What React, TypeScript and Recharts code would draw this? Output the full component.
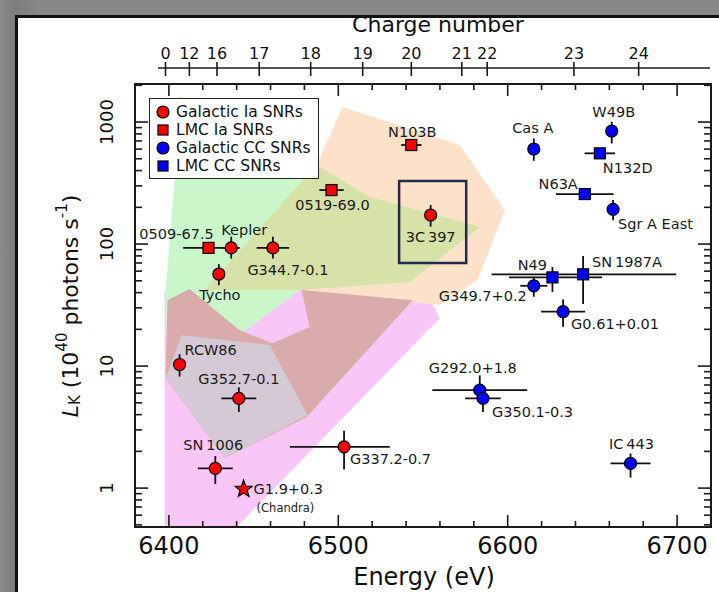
import React from 'react';
import { ScatterChart, Scatter, XAxis, YAxis, ErrorBar, ReferenceArea } from 'recharts';

const FONT = '"DejaVu Sans", "Liberation Sans", Arial, sans-serif';

// ---- layout constants ----
const W = 719;
const H = 592;
const PLOT_LEFT = 135;
const PLOT_RIGHT = 711;
const PLOT_TOP = 84;
const CHARGE_LINE_Y = 68;
const CHARGE_LINE_X0 = 158;
const CHARGE_LINE_X1 = 710;

// ---- axes ----
const energyDomain = [6380, 6720];
const lumDomain = [0.48, 2050];
const energyTicks = [6380, 6400, 6420, 6440, 6460, 6480, 6500, 6520, 6540, 6560, 6580, 6600, 6620, 6640, 6660, 6680, 6700, 6720];
const energyMajor = [6400, 6500, 6600, 6700];
const lumTicks = [0.5, 0.6, 0.7, 0.8, 0.9, 1, 2, 3, 4, 5, 6, 7, 8, 9, 10, 20, 30, 40, 50, 60, 70, 80, 90, 100, 200, 300, 400, 500, 600, 700, 800, 900, 1000, 2000];
const lumMajor = [1, 10, 100, 1000];
const chargeTickEnergies = [6398.0, 6412.1, 6428.4, 6453.3, 6483.7, 6514.4, 6543.1, 6572.9, 6587.9, 6639.1, 6677.3];
const chargeLabels = ['0', '12', '16', '17', '18', '19', '20', '21', '22', '23', '24'];

// ---- data: energy (eV), L_K, x errors (minus, plus), L range ----
const galacticIa = [
  { name: 'Kepler', e: 6436.8, l: 93, exm: 5, exp: 5, lLo: 76, lHi: 115 },
  { name: 'Tycho', e: 6429.5, l: 56.8, exm: 0, exp: 0, lLo: 46, lHi: 68.5 },
  { name: 'G344.7-0.1', e: 6461.4, l: 93, exm: 9.6, exp: 9.6, lLo: 76, lHi: 115 },
  { name: '3C\u2009397', e: 6554.5, l: 173, exm: 0, exp: 0, lLo: 139, lHi: 209 },
  { name: 'RCW86', e: 6406.3, l: 10.3, exm: 2, exp: 2, lLo: 8.2, lHi: 12.5 },
  { name: 'G352.7-0.1', e: 6441.3, l: 5.44, exm: 10.3, exp: 10.3, lLo: 4.2, lHi: 6.7 },
  { name: 'SN\u20091006', e: 6427.4, l: 1.45, exm: 10.3, exp: 10.3, lLo: 1.08, lHi: 1.83 },
  { name: 'G337.2-0.7', e: 6503.4, l: 2.18, exm: 32, exp: 27, lLo: 1.42, lHi: 2.95 },
];
const lmcIa = [
  { name: '0519-69.0', e: 6496, l: 277, exm: 7.2, exp: 7.2, lLo: 262, lHi: 292 },
  { name: '0509-67.5', e: 6423.4, l: 93, exm: 15, exp: 15, lLo: 88, lHi: 98 },
  { name: 'N103B', e: 6543.1, l: 648, exm: 6, exp: 6, lLo: 615, lHi: 683 },
];
const galacticCC = [
  { name: 'Cas A', e: 6615.4, l: 601, exm: 0, exp: 0, lLo: 481, lHi: 734 },
  { name: 'W49B', e: 6661.4, l: 844, exm: 0, exp: 0, lLo: 667, lHi: 1006 },
  { name: 'Sgr A East', e: 6662.2, l: 192.5, exm: 0, exp: 0, lLo: 157, lHi: 230 },
  { name: 'G349.7+0.2', e: 6615.4, l: 45.5, exm: 8, exp: 8, lLo: 37, lHi: 54 },
  { name: 'G0.61+0.01', e: 6632.7, l: 27.9, exm: 13, exp: 13, lLo: 21, lHi: 35.2 },
  { name: 'G292.0+1.8', e: 6583.5, l: 6.36, exm: 28, exp: 28, lLo: 5.3, lHi: 8.4 },
  { name: 'G350.1-0.3', e: 6585.4, l: 5.44, exm: 10.5, exp: 10.5, lLo: 4.2, lHi: 6.4 },
  { name: 'IC\u2009443', e: 6672.5, l: 1.594, exm: 11.8, exp: 11.8, lLo: 1.22, lHi: 1.92 },
];
const lmcCC = [
  { name: 'N132D', e: 6654.4, l: 554, exm: 9, exp: 9, lLo: 530, lHi: 580 },
  { name: 'N63A', e: 6645.5, l: 257, exm: 17, exp: 17, lLo: 245, lHi: 270 },
  { name: 'N49', e: 6626.4, l: 53.3, exm: 25.6, exp: 29.3, lLo: 40.6, lHi: 65 },
  { name: 'SN\u20091987A', e: 6644.5, l: 56.5, exm: 54, exp: 55, lLo: 32.2, lHi: 80 },
];
const chandraStar = [{ name: 'G1.9+0.3', e: 6444.1, l: 0.98 }];

// highlight box around 3C 397 (energy, L)
const boxCorners = [[6535.9, 328], [6575.5, 328], [6575.5, 69.9], [6535.9, 69.9]];

// model regions (energy, L)
const pinkRegion = [[6397.5, 0.479], [6440, 0.479], [6559.9, 24.7], [6551, 42], [6397.5, 42]];
const peachRegion = [[6502.6, 1327], [6571.7, 648], [6598.3, 190], [6582.3, 50.7], [6559.9, 31.6], [6477.2, 42], [6416.4, 43.6], [6487.2, 444]];
const mintRegion = [[6406.3, 1633], [6487.2, 444], [6518.5, 243], [6583.5, 138], [6542.1, 48.8], [6477.2, 42], [6441.8, 17.9], [6399.2, 7.97], [6398.1, 42], [6403.4, 335]];
const oliveRegion = [[6487.2, 444], [6518.5, 243], [6583.5, 138], [6542.1, 48.8], [6477.2, 42], [6421.1, 42]];
const roseRegion = [[6399.2, 34.7], [6412.2, 42.8], [6441.8, 19.7], [6461.2, 15.4], [6483.1, 20.9], [6478.4, 42], [6543.9, 34.7], [6481.3, 3.82], [6432.9, 1.76], [6398.1, 7.97]];
const grayRegion = [[6398.1, 7.97], [6407.5, 17.9], [6459.5, 14.9], [6481.9, 3.97], [6432.9, 1.76]];

// label placement relative to marker (px)
const labelOffsets: Record<string, [number, number, string]> = {
  'Kepler': [13, -18, 'middle'],
  '0509-67.5': [-32, -14, 'middle'],
  'Tycho': [1, 21, 'middle'],
  'G344.7-0.1': [15, 22, 'middle'],
  '0519-69.0': [1, 15, 'middle'],
  'N103B': [1, -13, 'middle'],
  '3C\u2009397': [0, 22, 'middle'],
  'Cas A': [-1, -21, 'middle'],
  'W49B': [2, -19, 'middle'],
  'N132D': [3, 15, 'start'],
  'N63A': [-7, -10, 'end'],
  'Sgr A East': [5, 15, 'start'],
  'N49': [-20, -12, 'middle'],
  'SN\u20091987A': [9, -12, 'start'],
  'G349.7+0.2': [-7, 10, 'end'],
  'G0.61+0.01': [8, 12, 'start'],
  'G292.0+1.8': [-7, -22, 'middle'],
  'G350.1-0.3': [9, 14, 'start'],
  'IC\u2009443': [1, -19, 'middle'],
  'RCW86': [5, -15, 'start'],
  'G352.7-0.1': [0, -19, 'middle'],
  'SN\u20091006': [-2, -23, 'middle'],
  'G337.2-0.7': [6, 12, 'start'],
  'G1.9+0.3': [10, 0, 'start'],
};

const RED = '#ff0000';
const BLUE = '#0000ff';
const INK = '#1a1a1a';

const toXY = (arr: number[][]) => arr.map(([e, l]) => ({ e, l }));

const polyFill = (color: string) => (props: any) => {
  const pts = props.points || [];
  if (!pts.length) return <g />;
  const d = pts.map((p: any, i: number) => `${i ? 'L' : 'M'}${p.x},${p.y}`).join(' ') + ' Z';
  return <path d={d} fill={color} stroke="none" />;
};
const polyStroke = (color: string, w: number) => (props: any) => {
  const pts = props.points || [];
  if (!pts.length) return <g />;
  const d = pts.map((p: any, i: number) => `${i ? 'L' : 'M'}${p.x},${p.y}`).join(' ') + ' Z';
  return <path d={d} fill="none" stroke={color} strokeWidth={w} />;
};
const noShape = () => <g />;

const starPath = (cx: number, cy: number, R: number, r: number) => {
  let d = '';
  for (let i = 0; i < 10; i++) {
    const ang = -Math.PI / 2 + (i * Math.PI) / 5;
    const rad = i % 2 === 0 ? R : r;
    d += `${i ? 'L' : 'M'}${cx + rad * Math.cos(ang)},${cy + rad * Math.sin(ang)}`;
  }
  return d + 'Z';
};

const PointLabel = ({ cx, cy, name }: any) => {
  const off = labelOffsets[name];
  if (!off) return null;
  return (
    <text x={cx + off[0]} y={cy + off[1]} textAnchor={off[2] as any} dominantBaseline="central" fontSize={14.5} fill="#1a1a1a" fontFamily={FONT}>
      {name}
    </text>
  );
};

const makeShape = (kind: string, color: string) => (props: any) => {
  const { cx, cy, payload } = props;
  if (cx == null || cy == null) return <g />;
  let marker;
  if (kind === 'circle') marker = <circle cx={cx} cy={cy} r={6} fill={color} stroke="#000" strokeWidth={1.2} />;
  else if (kind === 'square') marker = <rect x={cx - 5.5} y={cy - 5.5} width={11} height={11} fill={color} stroke="#000" strokeWidth={1.2} />;
  else marker = <path d={starPath(cx, cy, 9, 3.8)} fill={color} stroke="#000" strokeWidth={1.2} />;
  return (
    <g>
      {marker}
      <PointLabel cx={cx} cy={cy} name={payload.name} />
      {kind === 'star' && (
        <text x={cx + 13} y={cy + 19} dominantBaseline="central" fontSize={11.5} fill="#1a1a1a" fontFamily={FONT}>(Chandra)</text>
      )}
    </g>
  );
};

const BottomTick = (props: any) => {
  const { x, y, payload } = props;
  const v = payload.value;
  const major = energyMajor.includes(v);
  const len = major ? 12 : 6;
  return (
    <g>
      <line x1={x} y1={y} x2={x} y2={y - len} stroke={INK} strokeWidth={1.6} />
      <line x1={x} y1={PLOT_TOP} x2={x} y2={PLOT_TOP + len} stroke={INK} strokeWidth={1.6} />
      {major && (
        <text x={x} y={y + 27} textAnchor="middle" fontSize={24} fill="#111" fontFamily={FONT}>{v}</text>
      )}
    </g>
  );
};

const LeftTick = (props: any) => {
  const { x, y, payload } = props;
  const v = payload.value;
  const major = lumMajor.includes(v);
  const len = major ? 13 : 7;
  return (
    <g>
      <line x1={x} y1={y} x2={x + len} y2={y} stroke={INK} strokeWidth={1.6} />
      <line x1={PLOT_RIGHT} y1={y} x2={PLOT_RIGHT - len} y2={y} stroke={INK} strokeWidth={1.6} />
      {major && (
        <text transform={`translate(106 ${y}) rotate(-90)`} textAnchor="middle" dominantBaseline="central" fontSize={18} fill="#111" fontFamily={FONT}>{v}</text>
      )}
    </g>
  );
};

const ChargeTick = (props: any) => {
  const { x, payload, index } = props;
  let i = chargeTickEnergies.indexOf(payload.value);
  if (i < 0) i = index;
  return (
    <g>
      {i === 0 && <line x1={CHARGE_LINE_X0} y1={CHARGE_LINE_Y} x2={CHARGE_LINE_X1} y2={CHARGE_LINE_Y} stroke={INK} strokeWidth={1.6} />}
      <line x1={x} y1={CHARGE_LINE_Y - 6} x2={x} y2={CHARGE_LINE_Y + 8} stroke={INK} strokeWidth={1.6} />
      <text x={x} y={CHARGE_LINE_Y - 9} textAnchor="middle" fontSize={16} fill="#111" fontFamily={FONT}>{chargeLabels[i]}</text>
    </g>
  );
};

const errX = (d: any) => [d.exm, d.exp];
const errY = (d: any) => [d.l - d.lLo, d.lHi - d.l];

const legendItems = [
  { label: 'Galactic Ia SNRs', kind: 'circle', color: RED },
  { label: 'LMC Ia SNRs', kind: 'square', color: RED },
  { label: 'Galactic CC SNRs', kind: 'circle', color: BLUE },
  { label: 'LMC CC SNRs', kind: 'square', color: BLUE },
];

const regionLayers = [
  { data: pinkRegion, color: '#f8c6f7' },
  { data: peachRegion, color: '#fde2c9' },
  { data: mintRegion, color: '#c9f7c9' },
  { data: oliveRegion, color: '#d6e2a7' },
  { data: roseRegion, color: '#d9abaa' },
  { data: grayRegion, color: '#d4c9d5' },
];

export default function App() {
  const series = [
    { data: galacticIa, kind: 'circle', color: RED },
    { data: lmcIa, kind: 'square', color: RED },
    { data: galacticCC, kind: 'circle', color: BLUE },
    { data: lmcCC, kind: 'square', color: BLUE },
  ];
  return (
    <div style={{ position: 'absolute', left: 0, top: 0, width: W, height: H, overflow: 'hidden', background: 'linear-gradient(to right, #8f8d8b 0px, #7e7c7a 14px, #8a8886 40px)', fontFamily: FONT }}>
      <div style={{ position: 'absolute', left: 15, top: 15, width: W, height: H, background: '#fff', borderLeft: '3px solid #111', borderTop: '3px solid #111' }} />
      <div style={{ position: 'absolute', left: 0, top: 0 }}>
        <ScatterChart width={W} height={H} margin={{ top: 0, right: W - PLOT_RIGHT, bottom: 0, left: 0 }}>
          <XAxis dataKey="e" type="number" domain={energyDomain} allowDataOverflow ticks={energyTicks} interval={0} tick={BottomTick} tickLine={false} axisLine={false} tickSize={0} tickMargin={0} height={65} />
          <XAxis xAxisId="charge" orientation="top" dataKey="e" type="number" domain={energyDomain} allowDataOverflow ticks={chargeTickEnergies} interval={0} tick={ChargeTick} tickLine={false} axisLine={false} tickSize={0} tickMargin={0} height={PLOT_TOP} />
          <YAxis dataKey="l" type="number" scale="log" domain={lumDomain} allowDataOverflow ticks={lumTicks} interval={0} tick={LeftTick} tickLine={false} axisLine={false} tickSize={0} tickMargin={0} width={PLOT_LEFT} />

          {regionLayers.map((r, i) => (
            <Scatter key={'r' + i} data={toXY(r.data)} line={polyFill(r.color)} shape={noShape} isAnimationActive={false} zIndex={10 + i} />
          ))}
          <Scatter xAxisId="charge" data={toXY(boxCorners)} line={polyStroke('#1f2b4a', 2.5)} shape={noShape} isAnimationActive={false} zIndex={30} />

          {series.map((s, i) => (
            <Scatter key={i} data={s.data} shape={makeShape(s.kind, s.color)} isAnimationActive={false} zIndex={700}>
              <ErrorBar direction="x" dataKey={errX} width={0} stroke="#111" strokeWidth={1.8} zIndex={650} />
              <ErrorBar direction="y" dataKey={errY} width={0} stroke="#111" strokeWidth={1.8} zIndex={650} />
            </Scatter>
          ))}
          <Scatter data={chandraStar} shape={makeShape('star', RED)} isAnimationActive={false} zIndex={700} />

          <ReferenceArea x1={energyDomain[0]} x2={energyDomain[1]} y1={lumDomain[0]} y2={lumDomain[1]} fill="none" stroke={INK} strokeWidth={2} zIndex={2000} />
        </ScatterChart>
      </div>

      <svg width={W} height={H} style={{ position: 'absolute', left: 0, top: 0, pointerEvents: 'none' }}>
        <text x={438} y={32} textAnchor="middle" fontSize={22} fill="#111" fontFamily={FONT}>Charge number</text>
        <text x={424} y={585} textAnchor="middle" fontSize={24} fill="#111" fontFamily={FONT}>Energy (eV)</text>
        <text transform="translate(70 306) rotate(-90)" textAnchor="middle" dominantBaseline="central" fontSize={22} fill="#111" fontFamily={FONT}>
          <tspan fontStyle="italic">L</tspan>
          <tspan fontSize={15} dy={5}>K</tspan>
          <tspan dy={-5}> (10</tspan>
          <tspan fontSize={15} dy={-8}>40</tspan>
          <tspan dy={8}> photons s</tspan>
          <tspan fontSize={15} dy={-8}>-1</tspan>
          <tspan dy={8}>)</tspan>
        </text>
      </svg>

      <div style={{ position: 'absolute', left: 149, top: 98, width: 170, height: 81, boxSizing: 'border-box', border: '1.5px solid #222', background: '#fff' }}>
        <svg width={168} height={78} style={{ position: 'absolute', left: 0, top: 0 }}>
          {legendItems.map((it, i) => {
            const cy = 13 + i * 18;
            return (
              <g key={i}>
                {it.kind === 'circle'
                  ? <circle cx={13} cy={cy} r={6} fill={it.color} stroke="#000" strokeWidth={1.2} />
                  : <rect x={8} y={cy - 5} width={10} height={10} fill={it.color} stroke="#000" strokeWidth={1.2} />}
                <text x={26} y={cy} dominantBaseline="central" fontSize={15.5} fill="#111" fontFamily={FONT}>{it.label}</text>
              </g>
            );
          })}
        </svg>
      </div>
    </div>
  );
}
